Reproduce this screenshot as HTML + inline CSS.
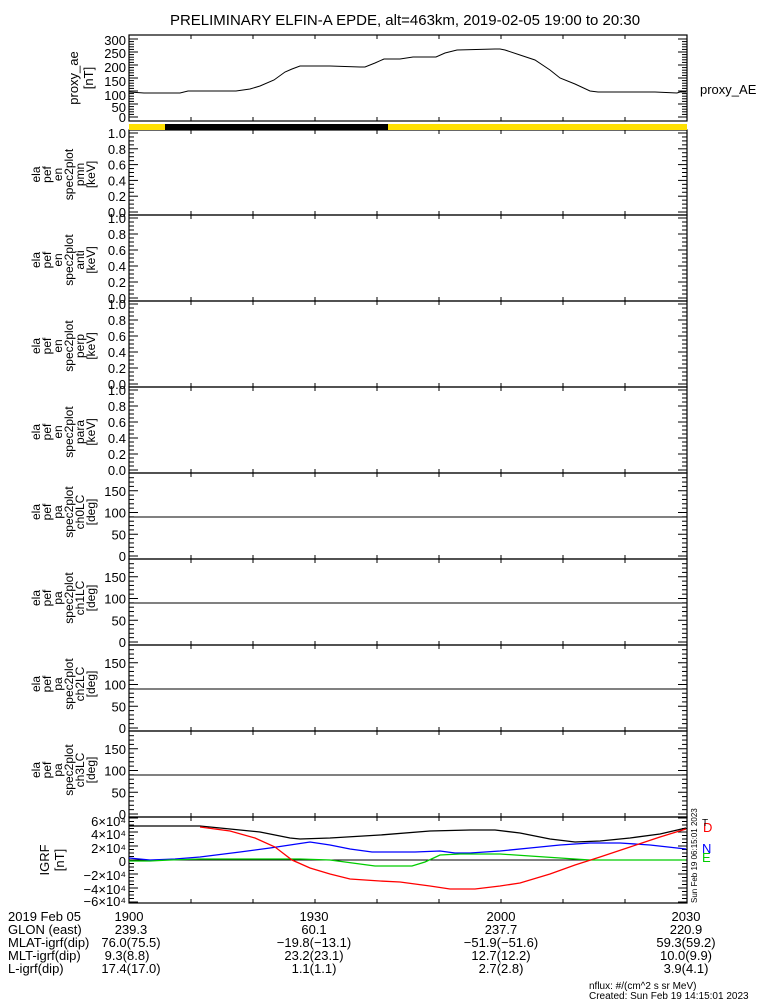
<!DOCTYPE html>
<html><head><meta charset="utf-8"><style>
body{margin:0;background:#fff;}
svg{display:block;font-family:"Liberation Sans",sans-serif;}
text{font-size:13px;fill:#000;}
</style></head><body>
<svg id="s" width="775" height="1000" xmlns="http://www.w3.org/2000/svg">
<rect width="775" height="1000" fill="#fff"/>
<text x="405" y="25" text-anchor="middle" style="font-size:15px">PRELIMINARY ELFIN-A EPDE, alt=463km, 2019-02-05 19:00 to 20:30</text>
<g id="g"></g>
<rect x="129" y="124" width="36" height="6" fill="#ffe000"/>
<rect x="165" y="124" width="223" height="6" fill="#000"/>
<rect x="388" y="124" width="299" height="6" fill="#ffe000"/>
<g text-anchor="end">
<text x="126" y="45">300</text><text x="126" y="58">250</text><text x="126" y="72">200</text><text x="126" y="86">150</text><text x="126" y="100">100</text><text x="126" y="112">50</text><text x="126" y="122">0</text>
</g>
<text transform="translate(78,78) rotate(-90)" text-anchor="middle">proxy_ae</text>
<text transform="translate(93,78) rotate(-90)" text-anchor="middle">[nT]</text>
<text x="700" y="94">proxy_AE</text>
<g text-anchor="end" style="font-size:12px">
<text x="126" y="826">6×10⁴</text><text x="126" y="839">4×10⁴</text><text x="126" y="853">2×10⁴</text><text x="126" y="866">0</text><text x="126" y="880">−2×10⁴</text><text x="126" y="894">−4×10⁴</text><text x="126" y="906">−6×10⁴</text>
</g>
<text transform="translate(49,860) rotate(-90)" text-anchor="middle">IGRF</text>
<text transform="translate(64,860) rotate(-90)" text-anchor="middle">[nT]</text>
<text x="703" y="832" style="fill:#f00">D</text>
<text x="702" y="826" style="font-size:10px">T</text>
<text x="702" y="853" style="fill:#00f">N</text>
<text x="702" y="862" style="fill:#0c0">E</text>
<text transform="translate(697,903) rotate(-90)" style="font-size:8px">Sun Feb 19 06:15:01 2023</text>
<g style="font-size:13px">
<text x="8" y="921">2019 Feb 05</text><text x="8" y="934">GLON (east)</text><text x="8" y="947">MLAT-igrf(dip)</text><text x="8" y="960">MLT-igrf(dip)</text><text x="8" y="973">L-igrf(dip)</text>
</g>
<g text-anchor="middle" style="font-size:13px">
<text x="129" y="921">1900</text><text x="131" y="934">239.3</text><text x="131" y="947">76.0(75.5)</text><text x="127" y="960">9.3(8.8)</text><text x="131" y="973">17.4(17.0)</text>
<text x="314" y="921">1930</text><text x="314" y="934">60.1</text><text x="314" y="947">−19.8(−13.1)</text><text x="314" y="960">23.2(23.1)</text><text x="314" y="973">1.1(1.1)</text>
<text x="501" y="921">2000</text><text x="501" y="934">237.7</text><text x="501" y="947">−51.9(−51.6)</text><text x="501" y="960">12.7(12.2)</text><text x="501" y="973">2.7(2.8)</text>
<text x="686" y="921">2030</text><text x="686" y="934">220.9</text><text x="686" y="947">59.3(59.2)</text><text x="686" y="960">10.0(9.9)</text><text x="686" y="973">3.9(4.1)</text>
</g>
<text x="589" y="989" style="font-size:10px">nflux: #/(cm^2 s sr MeV)</text>
<text x="589" y="999" style="font-size:10px">Created: Sun Feb 19 14:15:01 2023</text>
</svg>
<script>
var NS="http://www.w3.org/2000/svg",g=document.getElementById('g');
function el(t,a){var e=document.createElementNS(NS,t);for(var k in a)e.setAttribute(k,a[k]);g.appendChild(e);return e;}
function ln(x1,y1,x2,y2,c,w){el('line',{x1:x1,y1:y1,x2:x2,y2:y2,stroke:c||'#000','stroke-width':w||1});}
function txt(x,y,s,a){var e=el('text',{x:x,y:y,'text-anchor':a||'end'});e.textContent=s;return e;}
var L=129,R=687;
function box(t,b){el('rect',{x:L,y:t,width:R-L,height:b-t,fill:'none',stroke:'#000','stroke-width':1.2});
 for(var x=L+62;x<R-2;x+=62){ln(x,t,x,t+4);ln(x,b,x,b-4);} }
function yt(t,b,y0,ppu,vmin,vmax,minor,major){
 for(var v=vmin;v<=vmax+1e-9;v+=minor){var y=y0-v*ppu;if(y<t-0.5||y>b+0.5)continue;
  var m=Math.abs(v/major-Math.round(v/major))<1e-6;var len=m?9:5;ln(L,y,L+len,y);ln(R,y,R-len,y);}}
function vlab(arr,cx){arr.forEach(function(a){var e=el('text',{transform:'translate('+a[1]+','+cx+') rotate(-90)','text-anchor':'middle'});e.setAttribute('style','font-size:12px');e.textContent=a[0];});}
box(35,121);yt(35,121,117,0.26,0,300,10,50);
var p=[[129,92],[144,93],[180,93],[188,91],[236,91],[250,89],[260,86],[274,80],[285,72],[292,69],[300,66],[330,66],[360,67],[365,67],[375,63],[384,59],[400,59],[413,57],[436,57],[445,53],[457,50],[495,49],[500,49],[505,50],[520,55],[535,60],[550,70],[560,78],[575,84],[590,91],[598,92],[640,92],[655,92],[677,93],[680,92],[686,92]];
el('polyline',{points:p.join(' '),fill:'none',stroke:'#000','stroke-width':1});
var sp=[130,215,301,387,473],nm=['pmn','anti','perp','para'];
for(var i=0;i<4;i++){var t=sp[i],b=sp[i+1];box(t,b);yt(t,b,b-3,(b-t-6),0,1,0.05,0.2);
 ['1.0','0.8','0.6','0.4','0.2','0.0'].forEach(function(s,j){txt(126,t+8+j*(b-t-6)/5,s);});
 vlab([['ela',40],['pef',51],['en',62],['spec2plot',73],[nm[i],84],['[keV]',95]],t+(b-t)/2+2);
}
var pp=[473,559,645,731,817];
for(var i=0;i<4;i++){var t=pp[i],b=pp[i+1];box(t,b);yt(t,b,b-3,0.435,0,180,10,50);ln(L,t+44,R,t+44);
 [['150',150],['100',100],['50',50],['0',0]].forEach(function(a){txt(126,b-3-a[1]*0.435+5,a[0]);});
 vlab([['ela',40],['pef',51],['pa',62],['spec2plot',73],['ch'+i+'LC',84],['[deg]',95]],t+(b-t)/2-4);
}
box(817,903);yt(817,903,860,0.0007,-60000,60000,5000,20000);ln(L,860,R,860);
function pl(pts,c){el('polyline',{points:pts.join(' '),fill:'none',stroke:c,'stroke-width':1.3});}
pl([[129,826],[200,826],[230,829],[260,832],[290,838],[300,839],[330,838],[380,835],[430,831],[470,830],[495,830],[520,833],[550,839],[575,842],[600,841],[630,838],[660,834],[686,828]],'#000');
pl([[129,858],[150,860],[175,859],[200,857],[240,852],[270,848],[290,845],[310,842],[330,845],[350,849],[372,852],[415,852],[440,851],[455,853],[470,853],[500,851],[530,848],[560,845],[590,843],[620,843],[650,845],[686,849]],'#00f');
pl([[129,861],[150,861],[170,860],[200,859],[270,859],[300,859],[330,860],[360,864],[375,866],[412,866],[425,862],[440,855],[460,854],[500,854],[530,856],[560,858],[590,860],[686,860]],'#0c0');
pl([[200,827],[230,831],[255,838],[275,847],[292,860],[310,868],[330,874],[350,879],[380,881],[400,882],[430,886],[450,889],[475,889],[500,886],[520,883],[550,874],[575,865],[600,857],[630,847],[660,837],[686,829]],'#f00');
</script>
</body></html>
